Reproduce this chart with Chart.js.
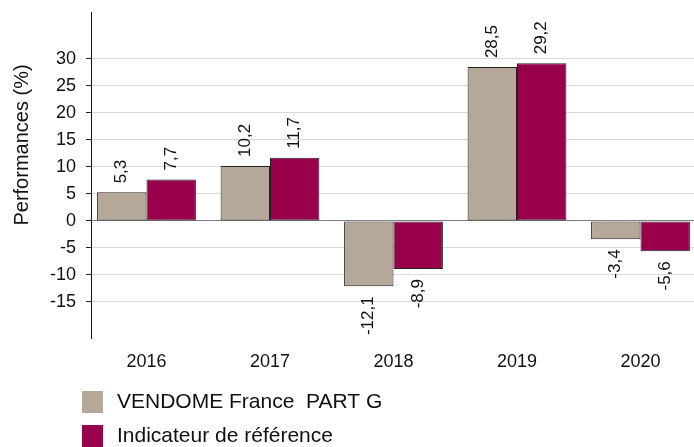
<!DOCTYPE html>
<html>
<head>
<meta charset="utf-8">
<script src="https://cdn.jsdelivr.net/npm/chart.js@4.4.1/dist/chart.umd.min.js"></script>
<style>
  html, body { margin: 0; padding: 0; background: #fff; overflow: hidden; }
  #wrap { width: 694px; height: 447px; position: relative; }
</style>
</head>
<body>
<div id="wrap"><canvas id="perfChart"></canvas></div>
<script>
const years = [2016, 2017, 2018, 2019, 2020];
const fundValues = [5.3, 10.2, -12.1, 28.5, -3.4];
const benchValues = [7.7, 11.7, -8.9, 29.2, -5.6];
const yTicks = [-15, -10, -5, 0, 5, 10, 15, 20, 25, 30];
const seriesNames = ['VENDOME France  PART G', 'Indicateur de référence'];
const yTitle = 'Performances (%)';

const FONT = "'Liberation Sans', Arial, sans-serif";
const fmt = v => v.toFixed(1).replace('.', ',');

// rotated value labels above / below each bar
const barLabels = {
    id: 'barLabels',
    afterDatasetsDraw(chart) {
        const ctx = chart.ctx;
        ctx.save();
        ctx.font = '17px ' + FONT;
        ctx.fillStyle = '#111';
        ctx.textBaseline = 'middle';
        chart.data.datasets.forEach((ds, di) => {
            chart.getDatasetMeta(di).data.forEach((bar, i) => {
                const v = ds.data[i].y;
                const up = v >= 0;
                ctx.save();
                ctx.translate(bar.x, up ? bar.y - 9 : bar.y + 10);
                ctx.rotate(-Math.PI / 2);
                ctx.textAlign = up ? 'left' : 'right';
                ctx.fillText(fmt(v), 0, 0);
                ctx.restore();
            });
        });
        ctx.restore();
    }
};

// legend stacked one item per row, under the axis
const stackedLegend = {
    id: 'stackedLegend',
    afterDraw(chart) {
        const ctx = chart.ctx;
        const top = chart.chartArea.bottom + 64;
        ctx.save();
        ctx.font = '21px ' + FONT;
        ctx.textBaseline = 'middle';
        ctx.textAlign = 'left';
        chart.data.datasets.forEach((ds, i) => {
            const cy = top + i * 34;
            ctx.fillStyle = ds.backgroundColor;
            ctx.fillRect(82, cy - 11, 21, 22);
            ctx.fillStyle = '#111';
            ctx.fillText(ds.label, 117, cy);
        });
        ctx.restore();
    }
};

// y title sits higher than the plot centre in the original
const yAxisTitle = {
    id: 'yAxisTitle',
    afterDraw(chart) {
        const ctx = chart.ctx;
        ctx.save();
        ctx.font = '20px ' + FONT;
        ctx.fillStyle = '#111';
        ctx.textAlign = 'center';
        ctx.textBaseline = 'middle';
        ctx.translate(22, 145);
        ctx.rotate(-Math.PI / 2);
        ctx.fillText(yTitle, 0, 0);
        ctx.restore();
    }
};

const ctx = document.getElementById('perfChart').getContext('2d');
new Chart(ctx, {
    type: 'bar',
    data: {
        datasets: [
            {
                label: seriesNames[0],
                data: years.map((y, i) => ({ x: y, y: fundValues[i] })),
                backgroundColor: '#b5a899',
                borderColor: '#222',
                borderWidth: 1,
                borderSkipped: false
            },
            {
                label: seriesNames[1],
                data: years.map((y, i) => ({ x: y, y: benchValues[i] })),
                backgroundColor: '#99004c',
                borderColor: '#222',
                borderWidth: 1,
                borderSkipped: false
            }
        ]
    },
    options: {
        responsive: true,
        maintainAspectRatio: false,
        animation: false,
        categoryPercentage: 0.8,
        barPercentage: 1.0,
        layout: { padding: { top: 12, right: 0, bottom: 74, left: 0 } },
        plugins: {
            legend: { display: false },
            tooltip: { enabled: false }
        },
        scales: {
            x: {
                type: 'linear',
                offset: false,
                min: years[0] - 0.4494,
                max: years[years.length - 1] + 0.4332,
                afterFit: scale => { scale.height = 35; },
                grid: { display: false, drawTicks: false },
                border: { display: false },
                ticks: {
                    stepSize: 1,
                    includeBounds: false,
                    padding: 13,
                    color: '#111',
                    font: { family: FONT, size: 18 },
                    callback: v => String(v)
                }
            },
            y: {
                min: -21.67,
                max: 38.7,
                afterBuildTicks: scale => { scale.ticks = yTicks.map(v => ({ value: v })); },
                afterFit: scale => {
                    scale.width = 91;
                    scale.paddingTop = 0;
                    scale.paddingBottom = 0;
                },
                grid: {
                    color: c => (c.tick && c.tick.value === 0) ? '#7f7f7f' : '#d9d9d9',
                    tickColor: '#222',
                    tickLength: 5
                },
                border: { display: true, color: '#111', width: 1 },
                ticks: {
                    padding: 10,
                    color: '#111',
                    font: { family: FONT, size: 18 },
                    callback: v => String(v)
                }
            }
        }
    },
    plugins: [barLabels, stackedLegend, yAxisTitle]
});
</script>
</body>
</html>
